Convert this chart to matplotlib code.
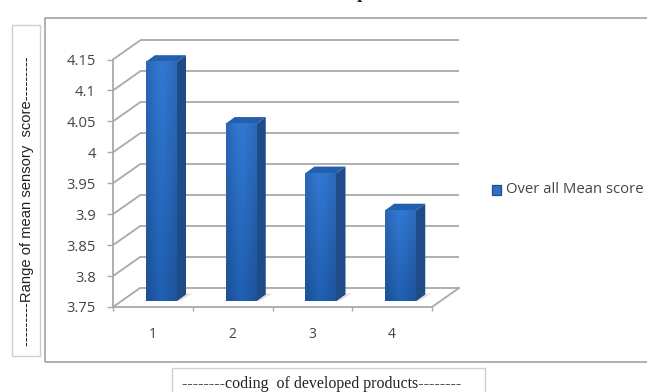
import matplotlib
matplotlib.use('Agg')
import matplotlib.pyplot as plt
import numpy as np
from matplotlib.patches import Polygon, Rectangle

# chart data
categories = ['1', '2', '3', '4']
mean_scores = [4.14, 4.04, 3.96, 3.90]
y_ticks = [3.75, 3.8, 3.85, 3.9, 3.95, 4, 4.05, 4.1, 4.15]
y_tick_labels = ['3.75', '3.8', '3.85', '3.9', '3.95', '4', '4.05', '4.1', '4.15']
series_name = 'Over all Mean score'
y_title = '---------Range of mean sensory  score---------'
x_title = '--------coding  of developed products--------'

W, H = 647, 392
GRID = '#a9a9a9'
TEXT = '#444444'

plt.rcParams['font.family'] = ['Open Sans', 'DejaVu Sans']

fig = plt.figure(figsize=(W / 100, H / 100), dpi=100)

# plot area of the front plane, in pixels
left, right, bottom, top = 113, 432, 307, 59.5
ax = fig.add_axes([left / W, 1 - bottom / H, (right - left) / W, (bottom - top) / H])
ax.set_xlim(0.5, 4.5)
ax.set_ylim(3.75, 4.15)
for s in ax.spines.values():
    s.set_visible(False)
ax.patch.set_alpha(0)

# oblique depth offsets converted to data units
px_x = 4.0 / (right - left)
px_y = 0.4 / (bottom - top)
depth_x = 27 * px_x
depth_y = 19 * px_y

x0, x1 = 0.5, 4.5
for t in y_ticks:
    # back wall line + slanted side wall line
    ax.plot([x0 + depth_x, x1 + depth_x], [t + depth_y, t + depth_y], color=GRID, lw=1.3,
            clip_on=False, zorder=1, solid_capstyle='butt')
    ax.plot([x0, x0 + depth_x], [t, t + depth_y], color=GRID, lw=1.3, clip_on=False, zorder=1)

# floor and axis lines
ax.plot([x0, x1], [3.75, 3.75], color=GRID, lw=1.3, clip_on=False, zorder=1)
ax.plot([x1, x1 + depth_x], [3.75, 3.75 + depth_y], color=GRID, lw=1.3, clip_on=False, zorder=1)
ax.plot([x0, x0], [3.75, 4.15], color=GRID, lw=1.3, clip_on=False, zorder=1)

ax.set_yticks(y_ticks)
ax.set_yticklabels(y_tick_labels, fontsize=10.6, color=TEXT)
ax.set_xticks([1, 2, 3, 4])
ax.set_xticklabels(categories, fontsize=10, color=TEXT)
ax.set_xticks([0.5, 1.5, 2.5, 3.5, 4.5], minor=True)
ax.tick_params(axis='y', length=4.3, width=1, color=GRID, pad=8)
ax.tick_params(axis='x', which='major', length=0, pad=14.5)
ax.tick_params(axis='x', which='minor', length=3, width=1, color=GRID, direction='out')

# shading of the bar fronts: darker towards the bottom, a little lighter mid-width
c_top = np.array([0x30, 0x74, 0xcc]) / 255
c_bot = np.array([0x1f, 0x5b, 0xa9]) / 255
vert = np.linspace(1, 0, 64).reshape(-1, 1, 1)
across = np.array([0.90, 0.97, 1.03, 1.03, 0.98, 0.93]).reshape(1, -1, 1)
grad = np.clip((c_bot + (c_top - c_bot) * vert) * across, 0, 1)

bar_w = 31 * px_x
off_y = 6 * px_y
top_off = 4 * px_y
side_dx = 9 * px_x
side_dy = 6.5 * px_y
overlap = 1.5 * px_x  # side/top faces run under the front so no seam shows

for i, v in enumerate(mean_scores):
    xa = i + 1 - 0.5 + 33 * px_x
    xb = xa + bar_w
    y0 = 3.75 + off_y
    yt = v + top_off
    # shadow on the floor
    ax.add_patch(Polygon([[xa - 4 * px_x, y0], [xb + 3 * px_x, y0], [xb + 15 * px_x, y0 + 7.5 * px_y],
                          [xb + 2 * px_x, y0 + 7.5 * px_y]],
                         closed=True, fc='#e6e0d6', ec='none', zorder=2, clip_on=False))
    # side and top faces
    ax.add_patch(Polygon([[xb - overlap, y0], [xb, y0], [xb + side_dx, y0 + side_dy], [xb + side_dx, yt + side_dy],
                          [xb, yt], [xb - overlap, yt]],
                         closed=True, fc='#1f4b88', ec='none', zorder=3, clip_on=False))
    ax.add_patch(Polygon([[xa, yt - 1.5 * px_y], [xb, yt - 1.5 * px_y], [xb, yt], [xb + side_dx, yt + side_dy],
                          [xa + side_dx, yt + side_dy], [xa, yt]],
                         closed=True, fc='#2360ab', ec='none', zorder=3, clip_on=False))
    # front face
    ax.imshow(grad, extent=[xa, xb, y0, yt], aspect='auto', zorder=4, clip_on=False,
              interpolation='bilinear')

ax.set_xlim(0.5, 4.5)
ax.set_ylim(3.75, 4.15)


def px_rect(x, y, w, h, ec, lw=1.0, fc='none'):
    fig.add_artist(Rectangle((x / W, 1 - (y + h) / H), w / W, h / H, transform=fig.transFigure,
                             fc=fc, ec=ec, lw=lw, zorder=0))


# chart frame (runs off the right edge) and the two title boxes
px_rect(44.5, 18, 640, 344, '#9a9a9a', lw=1.1)
px_rect(11.5, 24.5, 28, 331, '#cfcfcf', lw=1.0)
px_rect(172, 368, 313, 40, '#cfcfcf', lw=1.0)

fig.text(27 / W, 1 - 201 / H, y_title, rotation=90, ha='center', va='center', fontsize=10.6,
         color='#222222', family=['Liberation Sans', 'DejaVu Sans'])
fig.text(322 / W, 1 - 384 / H, x_title, ha='center', va='center', fontsize=11.5,
         color='#222222', family=['Liberation Serif', 'DejaVu Serif'])

# main title sits above the top edge, only its descender shows
fig.text(362 / W, 1 + 2 / H, 'p', ha='center', va='baseline', fontsize=14, fontweight='bold',
         color='#222222', family=['Liberation Serif', 'DejaVu Serif'])

# legend swatch and label
px_rect(491.5, 185.5, 9.5, 9.5, '#1d4f92', lw=0.9, fc='#2f6fc4')
fig.text(506 / W, 1 - 190 / H, series_name, ha='left', va='center', fontsize=10.7, color=TEXT)

fig.savefig('out.png', dpi=100)
